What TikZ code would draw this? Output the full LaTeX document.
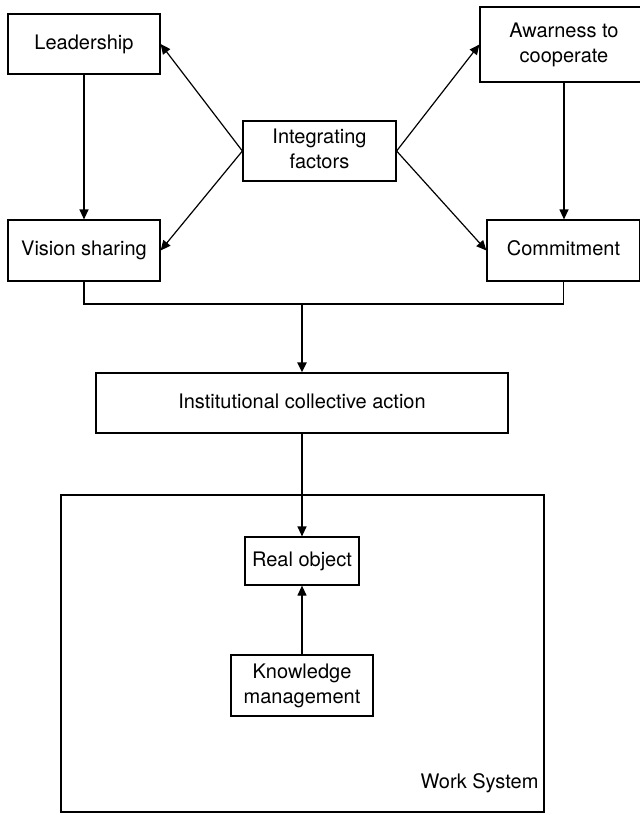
\documentclass[tikz,border=0pt]{standalone}
\usepackage{fontspec}
\setmainfont{TeX Gyre Heros}
\usetikzlibrary{arrows.meta}

\def\foo{\vphantom{fy}}

\begin{document}
\begin{tikzpicture}[x=0.5pt,y=-0.5pt,line width=0.6pt,
    every text node part/.style={align=center},
    every node/.style={font=\fontsize{10}{12.5}\selectfont,inner sep=0pt},
    >={Triangle[length=5pt,width=4.5pt]}]
  \useasboundingbox (0,0) rectangle (639,815);

  \node[draw,minimum width=241.5pt,minimum height=158.5pt] (9) at (302.5,653.5) {};
  \node[anchor=east] (10) at (539,783) {Work System\foo};

  \node[draw,minimum width=76pt,minimum height=30pt] (0) at (84,44) {Leadership\foo};
  \node[draw,minimum width=76pt,minimum height=30.5pt] (1) at (84,250.5) {Vision sharing\foo};
  \node[draw,minimum width=76.5pt,minimum height=30pt] (2) at (319.5,151) {Integrating\foo\\factors\foo};
  \node[draw,minimum width=84pt,minimum height=37.5pt] (3) at (564,44.5) {Awarness to\foo\\cooperate\foo};
  \node[draw,minimum width=76.5pt,minimum height=30.5pt] (4) at (563.5,250.5) {Commitment\foo};
  \node[draw,minimum width=206pt,minimum height=30pt] (5) at (302,403) {Institutional collective action\foo};
  \node[draw,minimum width=57pt,minimum height=24pt] (6) at (302,561) {Real object\foo};
  \node[draw,minimum width=71pt,minimum height=30.5pt] (7) at (302,685.5) {Knowledge\foo\\management\foo};
  \coordinate (8) at (302,304);

  \draw[->] (0) -- (1);
  \draw[->] (2.west) -- (0.east);
  \draw[->] (2.west) -- (1.east);
  \draw[->] (2.east) -- (3.west);
  \draw[->] (2.east) -- (4.west);
  \draw[->] (3.south) -- (3.south |- 4.north);
  \draw (1.south) |- (4.south |- 8) -- (4.south);
  \draw[->,line width=1pt] (8) -- (5);
  \draw[->] (5) -- (6);
  \draw[->] (7) -- (6);
\end{tikzpicture}
\end{document}
